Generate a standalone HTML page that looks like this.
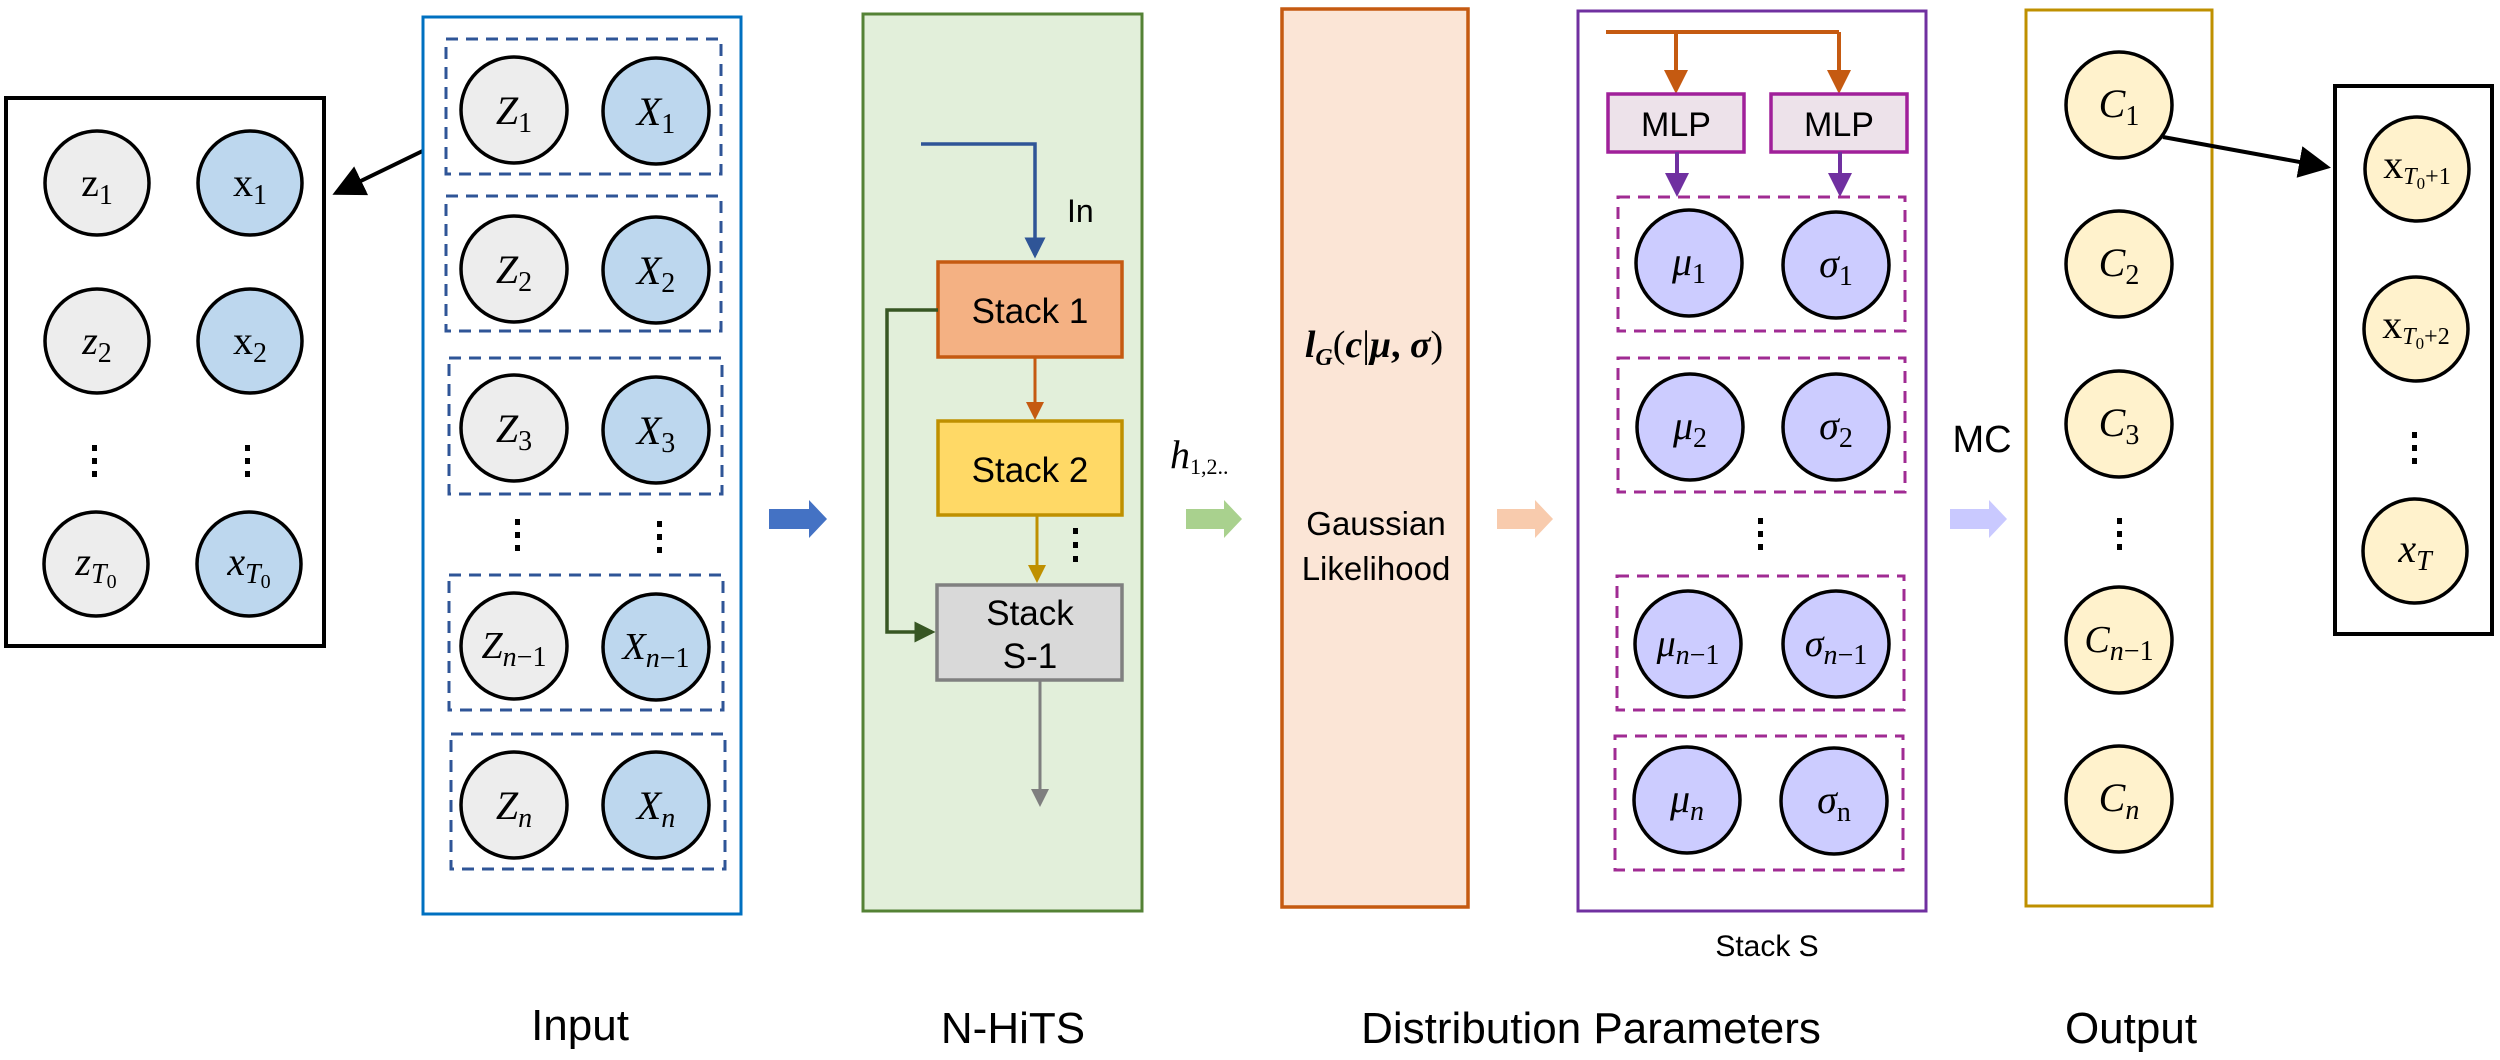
<!DOCTYPE html>
<html><head><meta charset="utf-8"><style>
html,body{margin:0;padding:0;background:#fff;}
svg{display:block;}
.m{font-family:"Liberation Serif",serif;font-style:italic;font-size:40px;}
.u{font-family:"Liberation Serif",serif;font-size:40px;}
.s{font-family:"Liberation Sans",sans-serif;}
</style></head><body>
<svg width="2500" height="1060" viewBox="0 0 2500 1060" xmlns="http://www.w3.org/2000/svg">
<defs>
<marker id="ab" markerWidth="8" markerHeight="8" refX="7" refY="4" orient="auto" markerUnits="strokeWidth"><path d="M0,0 L8,4 L0,8 z" fill="#000"/></marker>
<marker id="abl" markerWidth="6" markerHeight="6" refX="5" refY="3" orient="auto" markerUnits="strokeWidth"><path d="M0,0 L6,3 L0,6 z" fill="#2f5597"/></marker>
<marker id="aor" markerWidth="6" markerHeight="6" refX="5" refY="3" orient="auto" markerUnits="strokeWidth"><path d="M0,0 L6,3 L0,6 z" fill="#c55a11"/></marker>
<marker id="aye" markerWidth="6" markerHeight="6" refX="5" refY="3" orient="auto" markerUnits="strokeWidth"><path d="M0,0 L6,3 L0,6 z" fill="#bf9000"/></marker>
<marker id="agr" markerWidth="6" markerHeight="6" refX="5" refY="3" orient="auto" markerUnits="strokeWidth"><path d="M0,0 L6,3 L0,6 z" fill="#375623"/></marker>
<marker id="agy" markerWidth="6" markerHeight="6" refX="5" refY="3" orient="auto" markerUnits="strokeWidth"><path d="M0,0 L6,3 L0,6 z" fill="#7f7f7f"/></marker>
<marker id="apu" markerWidth="6" markerHeight="6" refX="5" refY="3" orient="auto" markerUnits="strokeWidth"><path d="M0,0 L6,3 L0,6 z" fill="#7030a0"/></marker>
</defs>

<!-- Left zoom box -->
<rect x="6" y="98" width="318" height="548" fill="#fff" stroke="#000" stroke-width="4"/>
<g stroke="#000" stroke-width="3.5">
<circle cx="97" cy="183" r="52" fill="#ededed"/><circle cx="250" cy="183" r="52" fill="#bdd7ee"/>
<circle cx="97" cy="341" r="52" fill="#ededed"/><circle cx="250" cy="341" r="52" fill="#bdd7ee"/>
<circle cx="96" cy="564" r="52" fill="#ededed"/><circle cx="249" cy="564" r="52" fill="#bdd7ee"/>
</g>
<g class="u" text-anchor="middle">
<text x="97" y="196">z<tspan font-size="28" dy="8">1</tspan></text>
<text x="250" y="196">x<tspan font-size="28" dy="8">1</tspan></text>
<text x="97" y="354" class="m">z<tspan font-size="28" dy="8" font-style="normal">2</tspan></text>
<text x="250" y="354">x<tspan font-size="28" dy="8">2</tspan></text>
<text x="96" y="575" class="m">z<tspan font-size="28" dy="8">T</tspan><tspan font-size="20" dy="5" font-style="normal">0</tspan></text>
<text x="249" y="575" class="m">x<tspan font-size="28" dy="8">T</tspan><tspan font-size="20" dy="5" font-style="normal">0</tspan></text>
</g>
<g fill="#000"><rect x="92" y="445" width="5" height="6"/><rect x="92" y="458" width="5" height="6"/><rect x="92" y="471" width="5" height="6"/>
<rect x="245" y="445" width="5" height="6"/><rect x="245" y="458" width="5" height="6"/><rect x="245" y="471" width="5" height="6"/></g>
<line x1="437" y1="144" x2="336" y2="193" stroke="#000" stroke-width="4" marker-end="url(#ab)"/>

<!-- Input -->
<rect x="423" y="17" width="318" height="897" fill="#fff" stroke="#0070c0" stroke-width="3"/>
<g fill="none" stroke="#2f5597" stroke-width="3" stroke-dasharray="12,8">
<rect x="446" y="39" width="275" height="135"/>
<rect x="446" y="196" width="275" height="135"/>
<rect x="449" y="358" width="273" height="136"/>
<rect x="449" y="575" width="274" height="135"/>
<rect x="451" y="734" width="274" height="135"/>
</g>
<g stroke="#000" stroke-width="3.5">
<circle cx="514" cy="110" r="53" fill="#ededed"/><circle cx="656" cy="111" r="53" fill="#bdd7ee"/>
<circle cx="514" cy="269" r="53" fill="#ededed"/><circle cx="656" cy="270" r="53" fill="#bdd7ee"/>
<circle cx="514" cy="428" r="53" fill="#ededed"/><circle cx="656" cy="430" r="53" fill="#bdd7ee"/>
<circle cx="514" cy="646" r="53" fill="#ededed"/><circle cx="656" cy="647" r="53" fill="#bdd7ee"/>
<circle cx="514" cy="805" r="53" fill="#ededed"/><circle cx="656" cy="805" r="53" fill="#bdd7ee"/>
</g>
<g class="m" text-anchor="middle">
<text x="514" y="124">Z<tspan font-size="28" dy="8" font-style="normal">1</tspan></text>
<text x="656" y="125">X<tspan font-size="28" dy="8" font-style="normal">1</tspan></text>
<text x="514" y="283">Z<tspan font-size="28" dy="8" font-style="normal">2</tspan></text>
<text x="656" y="284">X<tspan font-size="28" dy="8" font-style="normal">2</tspan></text>
<text x="514" y="442">Z<tspan font-size="28" dy="8" font-style="normal">3</tspan></text>
<text x="656" y="444">X<tspan font-size="28" dy="8" font-style="normal">3</tspan></text>
<text x="514" y="658" font-size="38">Z<tspan font-size="28" dy="8">n</tspan><tspan font-size="28" font-style="normal">−1</tspan></text>
<text x="656" y="659" font-size="38">X<tspan font-size="28" dy="8">n</tspan><tspan font-size="28" font-style="normal">−1</tspan></text>
<text x="514" y="819">Z<tspan font-size="28" dy="8">n</tspan></text>
<text x="656" y="819">X<tspan font-size="28" dy="8">n</tspan></text>
</g>
<g fill="#000"><rect x="515" y="519" width="5" height="6"/><rect x="515" y="532" width="5" height="6"/><rect x="515" y="545" width="5" height="6"/>
<rect x="657" y="521" width="5" height="6"/><rect x="657" y="534" width="5" height="6"/><rect x="657" y="547" width="5" height="6"/></g>

<!-- blue fat arrow -->
<path d="M769,509 L809,509 L809,500 L827,519 L809,538 L809,529 L769,529 Z" fill="#4472c4"/>

<!-- N-HiTS -->
<rect x="863" y="14" width="279" height="897" fill="#e2efda" stroke="#548235" stroke-width="3"/>
<polyline points="921,144 1035,144 1035,255" fill="none" stroke="#2f5597" stroke-width="3.5" marker-end="url(#abl)"/>
<text x="1067" y="222" class="s" font-size="32">In</text>
<rect x="938" y="262" width="184" height="95" fill="#f4b183" stroke="#c55a11" stroke-width="3.5"/>
<text x="1030" y="323" class="s" font-size="35" text-anchor="middle">Stack 1</text>
<rect x="938" y="421" width="184" height="94" fill="#ffd966" stroke="#bf9000" stroke-width="3.5"/>
<text x="1030" y="482" class="s" font-size="35" text-anchor="middle">Stack 2</text>
<rect x="937" y="585" width="185" height="95" fill="#d9d9d9" stroke="#808080" stroke-width="3.5"/>
<text x="1030" y="625" class="s" font-size="35" text-anchor="middle">Stack</text>
<text x="1030" y="668" class="s" font-size="35" text-anchor="middle">S-1</text>
<line x1="1035" y1="357" x2="1035" y2="417" stroke="#c55a11" stroke-width="3" marker-end="url(#aor)"/>
<line x1="1037" y1="515" x2="1037" y2="580" stroke="#bf9000" stroke-width="3" marker-end="url(#aye)"/>
<g fill="#000"><rect x="1073" y="528" width="5" height="6"/><rect x="1073" y="542" width="5" height="6"/><rect x="1073" y="556" width="5" height="6"/></g>
<polyline points="938,310 887,310 887,632 932,632" fill="none" stroke="#375623" stroke-width="3.5" marker-end="url(#agr)"/>
<line x1="1040" y1="680" x2="1040" y2="804" stroke="#7f7f7f" stroke-width="3" marker-end="url(#agy)"/>

<text x="1170" y="468" class="m" font-size="34">h<tspan font-size="22" dy="6" font-style="normal">1,2..</tspan></text>
<path d="M1186,509 L1224,509 L1224,500 L1242,519 L1224,538 L1224,529 L1186,529 Z" fill="#a9d18e"/>

<!-- Distribution box -->
<rect x="1282" y="9" width="186" height="898" fill="#fbe5d6" stroke="#c55a11" stroke-width="3.5"/>
<text x="1374" y="357" text-anchor="middle" font-family="Liberation Serif,serif" font-style="italic" font-weight="bold" font-size="38">l<tspan font-size="24" dy="8">G</tspan><tspan dy="-8" font-style="normal" font-weight="normal">(</tspan>c<tspan font-style="normal" font-weight="normal">|</tspan>μ<tspan font-style="normal">,</tspan> σ<tspan font-style="normal" font-weight="normal">)</tspan></text>
<text x="1376" y="535" class="s" font-size="33" text-anchor="middle">Gaussian</text>
<text x="1376" y="580" class="s" font-size="33" text-anchor="middle">Likelihood</text>
<path d="M1497,509 L1535,509 L1535,500 L1553,519 L1535,538 L1535,529 L1497,529 Z" fill="#f8cbad"/>

<!-- Stack S -->
<rect x="1578" y="11" width="348" height="900" fill="#fff" stroke="#7030a0" stroke-width="3"/>
<polyline points="1606,32 1839,32" fill="none" stroke="#c55a11" stroke-width="4"/>
<line x1="1676" y1="32" x2="1676" y2="90" stroke="#c55a11" stroke-width="4" marker-end="url(#aor)"/>
<line x1="1839" y1="32" x2="1839" y2="90" stroke="#c55a11" stroke-width="4" marker-end="url(#aor)"/>
<rect x="1608" y="94" width="136" height="58" fill="#ede2ea" stroke="#a0209a" stroke-width="3.5"/>
<rect x="1771" y="94" width="136" height="58" fill="#ede2ea" stroke="#a0209a" stroke-width="3.5"/>
<text x="1676" y="136" class="s" font-size="34" text-anchor="middle">MLP</text>
<text x="1839" y="136" class="s" font-size="34" text-anchor="middle">MLP</text>
<line x1="1677" y1="152" x2="1677" y2="193" stroke="#7030a0" stroke-width="4" marker-end="url(#apu)"/>
<line x1="1840" y1="152" x2="1840" y2="193" stroke="#7030a0" stroke-width="4" marker-end="url(#apu)"/>
<g fill="none" stroke="#a02b93" stroke-width="3" stroke-dasharray="12,8">
<rect x="1618" y="197" width="287" height="134"/>
<rect x="1618" y="358" width="287" height="134"/>
<rect x="1617" y="576" width="287" height="134"/>
<rect x="1615" y="736" width="288" height="134"/>
</g>
<g stroke="#000" stroke-width="3.5" fill="#ccccff">
<circle cx="1689" cy="263" r="53"/><circle cx="1836" cy="265" r="53"/>
<circle cx="1690" cy="427" r="53"/><circle cx="1836" cy="427" r="53"/>
<circle cx="1688" cy="644" r="53"/><circle cx="1836" cy="644" r="53"/>
<circle cx="1687" cy="800" r="53"/><circle cx="1834" cy="801" r="53"/>
</g>
<g class="m" text-anchor="middle">
<text x="1689" y="275">μ<tspan font-size="28" dy="8" font-style="normal">1</tspan></text>
<text x="1836" y="277">σ<tspan font-size="28" dy="8" font-style="normal">1</tspan></text>
<text x="1690" y="439">μ<tspan font-size="28" dy="8" font-style="normal">2</tspan></text>
<text x="1836" y="439">σ<tspan font-size="28" dy="8" font-style="normal">2</tspan></text>
<text x="1688" y="656" font-size="38">μ<tspan font-size="28" dy="8">n</tspan><tspan font-size="28" font-style="normal">−1</tspan></text>
<text x="1836" y="656" font-size="38">σ<tspan font-size="28" dy="8">n</tspan><tspan font-size="28" font-style="normal">−1</tspan></text>
<text x="1687" y="812">μ<tspan font-size="28" dy="8">n</tspan></text>
<text x="1834" y="813">σ<tspan font-size="28" dy="8" font-style="normal">n</tspan></text>
</g>
<g fill="#000"><rect x="1758" y="518" width="5" height="6"/><rect x="1758" y="531" width="5" height="6"/><rect x="1758" y="544" width="5" height="6"/></g>
<text x="1767" y="956" class="s" font-size="30" text-anchor="middle">Stack S</text>

<text x="1982" y="452" class="s" font-size="38" text-anchor="middle">MC</text>
<path d="M1950,509 L1989,509 L1989,500 L2007,519 L1989,538 L1989,529 L1950,529 Z" fill="#c9c9ff"/>

<!-- Output -->
<rect x="2026" y="10" width="186" height="896" fill="#fff" stroke="#bf9000" stroke-width="3"/>
<g stroke="#000" stroke-width="3.5" fill="#fff2cc">
<circle cx="2119" cy="105" r="53"/><circle cx="2119" cy="264" r="53"/><circle cx="2119" cy="424" r="53"/>
<circle cx="2119" cy="640" r="53"/><circle cx="2119" cy="799" r="53"/>
</g>
<g class="m" text-anchor="middle">
<text x="2119" y="117">C<tspan font-size="28" dy="8" font-style="normal">1</tspan></text>
<text x="2119" y="276">C<tspan font-size="28" dy="8" font-style="normal">2</tspan></text>
<text x="2119" y="436">C<tspan font-size="28" dy="8" font-style="normal">3</tspan></text>
<text x="2119" y="652" font-size="38">C<tspan font-size="28" dy="8">n</tspan><tspan font-size="28" font-style="normal">−1</tspan></text>
<text x="2119" y="811">C<tspan font-size="28" dy="8">n</tspan></text>
</g>
<g fill="#000"><rect x="2117" y="518" width="5" height="6"/><rect x="2117" y="531" width="5" height="6"/><rect x="2117" y="544" width="5" height="6"/></g>
<line x1="2163" y1="137" x2="2327" y2="167" stroke="#000" stroke-width="4" marker-end="url(#ab)"/>

<rect x="2335" y="86" width="157" height="548" fill="#fff" stroke="#000" stroke-width="4"/>
<g stroke="#000" stroke-width="3.5" fill="#fff2cc">
<circle cx="2417" cy="169" r="52"/><circle cx="2416" cy="329" r="52"/><circle cx="2415" cy="551" r="52"/>
</g>
<g text-anchor="middle">
<text x="2417" y="178" class="u" font-size="32">x<tspan font-size="24" dy="6" font-style="italic">T</tspan><tspan font-size="17" dy="5">0</tspan><tspan font-size="24" dy="-5">+1</tspan></text>
<text x="2416" y="338" class="u" font-size="32">x<tspan font-size="24" dy="6" font-style="italic">T</tspan><tspan font-size="17" dy="5">0</tspan><tspan font-size="24" dy="-5">+2</tspan></text>
<text x="2415" y="562" class="m">x<tspan font-size="28" dy="8">T</tspan></text>
</g>
<g fill="#000"><rect x="2412" y="432" width="5" height="6"/><rect x="2412" y="445" width="5" height="6"/><rect x="2412" y="458" width="5" height="6"/></g>

<!-- bottom labels -->
<g class="s" font-size="44" text-anchor="middle">
<text x="580" y="1040">Input</text>
<text x="1013" y="1043">N-HiTS</text>
<text x="1591" y="1043">Distribution Parameters</text>
<text x="2131" y="1043">Output</text>
</g>
</svg>
</body></html>
